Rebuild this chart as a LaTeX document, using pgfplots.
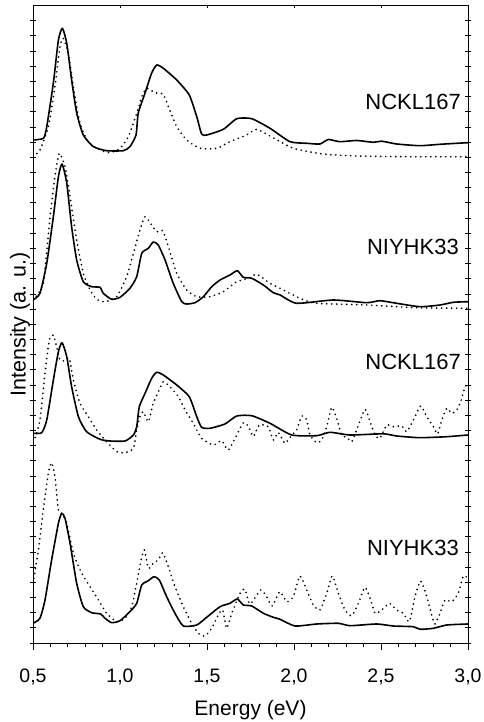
\documentclass[border=0pt]{standalone}
\usepackage{pgfplots}
\pgfplotsset{compat=1.18}
\usepackage{fontspec}
\setmainfont{Liberation Sans}
\begin{document}
\begin{tikzpicture}
\useasboundingbox (-33pt,-79pt) rectangle (450pt,643pt);
\begin{axis}[
  scale only axis, width=435pt, height=637.5pt,
  xmin=0.5, xmax=3.0, ymin=5.5, ymax=643,
  y filter/.expression={648.5-y},
  axis line style={line width=1pt},
  xtick={0.5,1.0,1.5,2.0,2.5,3.0},
  minor x tick num=4,
  ytick={5.5,20.68,...,643.1}, yticklabels={},
  tick style={black, line width=0.8pt},
  xtick align=outside, major tick length=6.5pt, minor tick length=3.5pt,
  ytick align=center,
  xtick pos=bottom,
  every y tick/.style={black, line width=0.7pt},
  extra x ticks={1.0,1.5,2.0,2.5}, extra x tick labels={},
  extra x tick style={xtick pos=top, tick align=inside, major tick length=3pt, minor tick num=0},
  xticklabel style={font=\fontsize{19.5}{22}\selectfont, /pgf/number format/.cd, fixed, fixed zerofill, precision=1, use comma, assume math mode=true},
  xticklabel shift=16pt,
  xlabel={Energy (eV)}, ylabel={Intensity (a. u.)},
  xlabel style={font=\fontsize{21}{24}\selectfont, at={(axis description cs:0.5,-0.1045)}, anchor=center},
  ylabel style={font=\fontsize{21.5}{24}\selectfont, at={(axis description cs:-0.030,0.5)}, anchor=center},
  every axis plot/.append style={black, line join=round, smooth, tension=0.35},
  sol/.style={line width=1.6pt},
  dot/.style={line width=1.9pt, line cap=round, dash pattern=on 0pt off 5pt},
  clip=true,
]
% ---------- Panel 1 (NCKL167, top) ----------
\addplot[sol] coordinates {
(0.50,140) (0.56,138.3) (0.579,126.7) (0.617,83) (0.646,40) (0.669,28.3) (0.694,43.3) (0.722,80) (0.751,113) (0.789,135) (0.847,146.7) (0.923,150.7) (1.019,150.7) (1.057,146.7) (1.092,135) (1.105,113) (1.144,93) (1.182,73) (1.211,65) (1.249,68.3) (1.326,80) (1.398,95) (1.441,116.7) (1.469,134) (1.498,135) (1.594,129.3) (1.671,118.7) (1.757,118.7) (1.862,128.3) (1.977,141.7) (2.073,143.3) (2.149,144) (2.197,139.5) (2.264,141.7) (2.360,140.5) (2.456,142.3) (2.504,141.2) (2.590,144) (2.724,145.7) (2.839,144.3) (2.935,143.3) (3.0,142.7)
};
\addplot[dot] coordinates {
(0.50,156.7) (0.54,150) (0.588,126.7) (0.626,86.7) (0.655,46.7) (0.674,38.3) (0.703,53.3) (0.732,86.7) (0.770,123.3) (0.818,141.7) (0.885,150) (0.943,152.7) (1.0,148.3) (1.048,136.7) (1.096,113.3) (1.125,96.7) (1.153,88.3) (1.201,92.7) (1.249,94.3) (1.278,106.7) (1.326,126.7) (1.383,140) (1.460,148.3) (1.556,148.3) (1.632,141.7) (1.728,135) (1.786,129.3) (1.862,136) (1.996,148.3) (2.168,154) (2.360,156) (2.648,156.7) (3.0,156.7)
};
% ---------- Panel 2 (NIYHK33) ----------
\addplot[sol] coordinates {
(0.50,300) (0.540,293.3) (0.579,263.3) (0.617,216.7) (0.646,176.7) (0.667,164) (0.694,183.3) (0.722,226.7) (0.751,260) (0.789,281.7) (0.837,286.7) (0.885,287.3) (0.904,293.3) (0.952,299.3) (1.0,297.3) (1.057,288.3) (1.096,276.7) (1.125,253.3) (1.163,248.3) (1.191,242) (1.220,245) (1.259,260) (1.306,283.3) (1.355,301.7) (1.383,304) (1.431,302.7) (1.479,296.7) (1.527,286.7) (1.575,280) (1.632,275) (1.674,270.7) (1.709,277.3) (1.757,278.3) (1.824,285) (1.881,292.7) (1.920,295) (2.015,303.3) (2.226,300) (2.418,302.7) (2.494,300.7) (2.590,303.3) (2.724,306.7) (2.839,305) (2.916,302.3) (3.0,301.7)
};
\addplot[dot] coordinates {
(0.50,300) (0.559,283.3) (0.598,216.7) (0.626,176.7) (0.651,153.3) (0.684,166.7) (0.713,196.7) (0.751,240) (0.789,273.3) (0.828,290) (0.866,299.3) (0.914,301.7) (0.981,296.7) (1.038,276.7) (1.077,253.3) (1.115,230) (1.144,216.7) (1.182,225) (1.211,231.7) (1.245,230.7) (1.278,246.7) (1.326,273.3) (1.383,290) (1.441,296.7) (1.517,296.7) (1.594,291.7) (1.671,281.7) (1.737,278.3) (1.786,274.3) (1.862,283.3) (1.920,288.3) (2.034,298.3) (2.130,303.3) (2.418,305) (2.70,307.7) (3.0,308.3)
};
% ---------- Panel 3 (NCKL167) ----------
\addplot[sol] coordinates {
(0.50,433.3) (0.550,432.7) (0.579,420) (0.617,380) (0.646,351.7) (0.667,342.7) (0.694,356.7) (0.722,386.7) (0.761,416.7) (0.808,431.7) (0.885,439.3) (0.943,441) (1.029,441) (1.077,435) (1.096,426.7) (1.111,406.7) (1.144,393.3) (1.182,378.3) (1.211,372.3) (1.249,375) (1.326,385) (1.398,396.7) (1.441,416.7) (1.469,427.3) (1.517,428.3) (1.603,424) (1.671,416) (1.757,415.7) (1.862,423.3) (1.987,435) (2.130,435.7) (2.207,432.3) (2.322,435) (2.513,433.8) (2.590,436) (2.724,437.7) (2.878,436.7) (3.0,435)
};
\addplot[dot] coordinates {
(0.50,442) (0.511,438.3) (0.540,420) (0.569,373.3) (0.594,340) (0.617,335) (0.636,346.7) (0.655,360) (0.684,360.7) (0.709,358.3) (0.732,380) (0.770,403.3) (0.818,416.7) (0.866,430) (0.923,441.7) (0.981,451.7) (1.029,452.7) (1.077,448.3) (1.096,430) (1.115,416.7) (1.134,411.7) (1.163,421.7) (1.191,403.3) (1.230,388.3) (1.249,381.7) (1.287,386.7) (1.335,396.7) (1.374,410) (1.421,423.3) (1.469,438.3) (1.536,445) (1.584,440.7) (1.622,450) (1.671,435) (1.709,422.7) (1.737,426) (1.766,436.5) (1.800,425) (1.852,426.7) (1.881,440) (1.910,432.5) (1.948,443.3) (1.987,435) (2.015,430) (2.044,416) (2.073,420) (2.092,435) (2.130,442.7) (2.159,440) (2.188,426.7) (2.217,407.3) (2.245,418.3) (2.274,435) (2.303,437.3) (2.332,441.7) (2.360,430) (2.408,409.3) (2.437,421.7) (2.466,435) (2.494,438.3) (2.533,425) (2.571,426.7) (2.619,426) (2.648,431.7) (2.686,420) (2.728,406) (2.763,416.7) (2.801,426.7) (2.826,434) (2.849,420) (2.878,408.3) (2.907,413.3) (2.935,410) (2.958,401.7) (2.983,386.7) (3.0,384)
};
% ---------- Panel 4 (NIYHK33, bottom) ----------
\addplot[sol] coordinates {
(0.50,623.3) (0.540,618.3) (0.569,600) (0.607,560) (0.646,523.3) (0.665,513.3) (0.684,518.3) (0.713,543.3) (0.751,583.3) (0.789,606.7) (0.837,612.7) (0.889,614) (0.914,618.3) (0.952,622.7) (1.0,620.7) (1.057,611.7) (1.096,603.3) (1.125,585) (1.163,580.7) (1.195,576.7) (1.226,580) (1.268,596.7) (1.316,613.3) (1.364,626) (1.441,625) (1.498,617.3) (1.575,606.7) (1.632,603.3) (1.674,599) (1.709,605) (1.757,606) (1.824,613.3) (1.881,617.3) (1.920,619.3) (2.006,626) (2.130,624) (2.255,623.3) (2.322,625.7) (2.475,624) (2.571,626) (2.686,626.7) (2.724,629.3) (2.801,628.3) (2.878,625) (3.0,624)
};
\addplot[dot] coordinates {
(0.50,583.3) (0.531,550) (0.559,510) (0.588,473.3) (0.607,462.7) (0.626,476.7) (0.646,510) (0.665,513.3) (0.694,523.3) (0.732,553.3) (0.780,573.3) (0.828,586.7) (0.876,600) (0.923,613.3) (0.981,621.7) (1.029,618.3) (1.067,606.7) (1.096,583.3) (1.121,560) (1.140,550) (1.163,568.3) (1.191,563.3) (1.220,560) (1.245,552.7) (1.278,566.7) (1.316,586.7) (1.364,606.7) (1.412,623.3) (1.450,633.3) (1.489,636) (1.527,628.3) (1.565,615) (1.590,610) (1.613,628.3) (1.642,613.3) (1.690,593.3) (1.718,589.3) (1.747,604) (1.809,590) (1.843,596.7) (1.875,606) (1.918,591.7) (1.958,601.7) (1.996,596.7) (2.034,576) (2.073,590) (2.111,605) (2.149,610) (2.188,593.3) (2.220,576) (2.255,593.3) (2.293,610) (2.332,615.7) (2.370,603.3) (2.408,587.3) (2.441,600) (2.466,613.3) (2.504,610) (2.548,603.3) (2.590,610) (2.628,613.3) (2.663,621.7) (2.695,596.7) (2.728,581) (2.763,596.7) (2.791,615) (2.810,624) (2.839,613.3) (2.868,600) (2.907,601.7) (2.944,593.3) (2.973,576) (3.0,578.3)
};
% labels (y given as height above the bottom of the frame, in the same units)
\node[anchor=east, inner sep=0pt, font=\fontsize{22}{26}\selectfont] at (axis cs:2.960,546.5) {NCKL167};
\node[anchor=east, inner sep=0pt, font=\fontsize{22}{26}\selectfont] at (axis cs:2.948,401.8) {NIYHK33};
\node[anchor=east, inner sep=0pt, font=\fontsize{22}{26}\selectfont] at (axis cs:2.960,286.8) {NCKL167};
\node[anchor=east, inner sep=0pt, font=\fontsize{22}{26}\selectfont] at (axis cs:2.948,100.5) {NIYHK33};
\end{axis}
\end{tikzpicture}
\end{document}
